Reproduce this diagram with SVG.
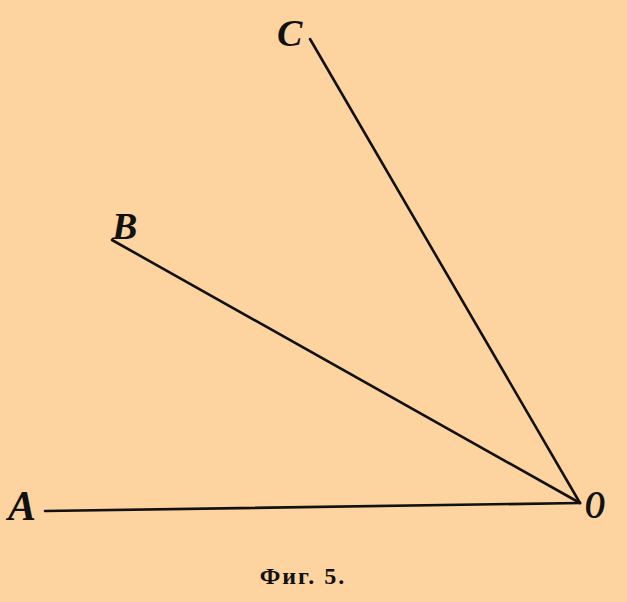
<svg xmlns="http://www.w3.org/2000/svg" width="627" height="602" viewBox="0 0 627 602">
<style>
.ln{stroke:#111;stroke-width:2.6;stroke-linecap:round;fill:none}
.lb{font-family:"Liberation Serif",serif;font-style:italic;font-weight:bold;fill:#111}
.cap{font-family:"Liberation Serif",serif;font-weight:bold;font-size:24px;letter-spacing:2px;fill:#111}
</style>
<rect width="627" height="602" fill="#FDD4A0"/>
<g id="connectors">
<line class="ln" x1="45" y1="511" x2="580" y2="503"/>
<line class="ln" x1="112" y1="240" x2="580" y2="503"/>
<line class="ln" x1="310" y1="39" x2="580" y2="503"/>
</g>
<g id="A"><text class="lb" x="8" y="520" font-size="42">A</text></g>
<g id="B"><text class="lb" x="112" y="239" font-size="38">B</text></g>
<g id="C"><text class="lb" x="277" y="46" font-size="38">C</text></g>
<g id="O"><text class="lb" transform="translate(585,518) scale(0.7,1)" font-size="40">O</text></g>
<g id="caption"><text class="cap" x="303" y="584" text-anchor="middle">Фиг. 5.</text></g>
</svg>
